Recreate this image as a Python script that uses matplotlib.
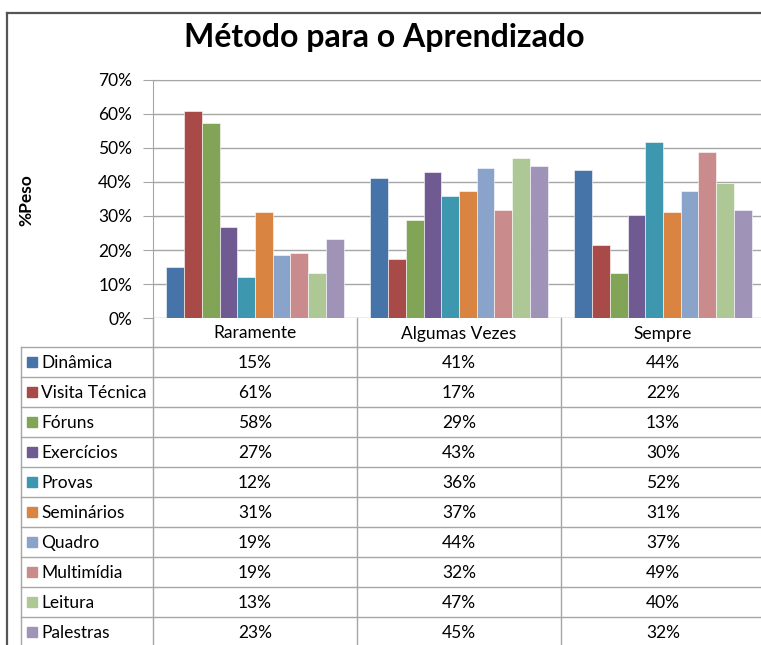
import numpy as np
import matplotlib.pyplot as plt

plt.rcParams['font.family'] = ['Lato', 'DejaVu Sans']

categorias = ['Raramente', 'Algumas Vezes', 'Sempre']
metodos = ['Dinâmica', 'Visita Técnica', 'Fóruns', 'Exercícios', 'Provas',
           'Seminários', 'Quadro', 'Multimídia', 'Leitura', 'Palestras']
cores = ['#4674A8', '#A84A48', '#82A456', '#6F5A91', '#3D97AE',
         '#DA8442', '#89A3CB', '#C98B8B', '#ADC895', '#A093B8']

# % por metodo: [Raramente, Algumas Vezes, Sempre]
dinamica = [14.9, 41.3, 43.6]
visita = [61.0, 17.3, 21.5]
foruns = [57.5, 28.9, 13.2]
exercicios = [26.8, 42.9, 30.3]
provas = [12.2, 35.9, 51.8]
seminarios = [31.3, 37.3, 31.3]
quadro = [18.6, 44.0, 37.3]
multimidia = [19.2, 31.9, 48.9]
leitura = [13.2, 47.0, 39.6]
palestras = [23.2, 44.8, 31.9]
valores = [dinamica, visita, foruns, exercicios, provas,
           seminarios, quadro, multimidia, leitura, palestras]

W, H = 761, 645
fig = plt.figure(figsize=(W / 100, H / 100), dpi=100)

def px(x0, y0, x1, y1):
    # caixa em pixels (origem no topo) -> coordenadas da figura
    return [x0 / W, 1 - y1 / H, (x1 - x0) / W, (y1 - y0) / H]

# camada de fundo: moldura, titulo, tabela
bg = fig.add_axes([0, 0, 1, 1])
bg.set_xlim(0, W)
bg.set_ylim(H, 0)
bg.axis('off')

grid_c = '#A6A6A6'
bg.plot([7, 7], [13, H], color='#555555', lw=1.6)
bg.plot([7, W], [13, 13], color='#555555', lw=1.6)

bg.text(384, 38, 'Método para o Aprendizado', ha='center', va='center',
        fontsize=23, fontweight='bold')
bg.text(26, 200, '%Peso', rotation=90, ha='center', va='center',
        fontsize=12.5, fontweight='bold')

# tabela de dados
plot_l, plot_r = 153, 765
col_w = (plot_r - plot_l) / 3
top_hdr, top_tab, row_h = 318, 347, 30
for i in range(4):
    x = plot_l + i * col_w
    bg.plot([x, x], [top_hdr, H], color=grid_c, lw=1)
bg.plot([21, 21], [top_tab, H], color=grid_c, lw=1)
for r in range(len(metodos) + 1):
    y = top_tab + r * row_h
    bg.plot([21, plot_r], [y, y], color=grid_c, lw=1)

fs = 12.5
for j, c in enumerate(categorias):
    bg.text(plot_l + (j + 0.5) * col_w, (top_hdr + top_tab) / 2 + 1, c,
            ha='center', va='center', fontsize=fs)

for r, (m, cor, vals) in enumerate(zip(metodos, cores, valores)):
    yc = top_tab + (r + 0.5) * row_h
    bg.add_patch(plt.Rectangle((27, yc - 5), 10, 10, color=cor))
    bg.text(41, yc + 1, m, ha='left', va='center', fontsize=fs)
    for j, v in enumerate(vals):
        bg.text(plot_l + (j + 0.5) * col_w, yc + 1, f'{int(v + 0.5)}%',
                ha='center', va='center', fontsize=fs)

# grafico de colunas
ax = fig.add_axes(px(plot_l, 80, plot_r, 318))
ax.patch.set_alpha(0)
n = len(metodos)
bw = 1 / (n + 1.5)
x = np.arange(len(categorias))
for k, (vals, cor) in enumerate(zip(valores, cores)):
    ax.bar(x + 0.75 * bw + k * bw, np.array(vals) / 100, width=bw,
           align='edge', color=cor, edgecolor='white', lw=0.4, zorder=3)

ax.set_xlim(0, 3)
ax.set_ylim(0, 0.7)
ax.set_yticks(np.arange(0, 0.71, 0.1))
ax.set_yticklabels([f'{int(round(t * 100))}%' for t in np.arange(0, 0.71, 0.1)],
                   fontsize=fs)
ax.set_xticks([])
ax.yaxis.grid(True, color=grid_c, lw=1, zorder=0)
ax.tick_params(axis='y', length=7, color=grid_c, pad=8)
for s in ['right', 'bottom']:
    ax.spines[s].set_visible(False)
ax.spines['left'].set_color(grid_c)
ax.spines['top'].set_color(grid_c)

fig.savefig('out.png', dpi=100)
